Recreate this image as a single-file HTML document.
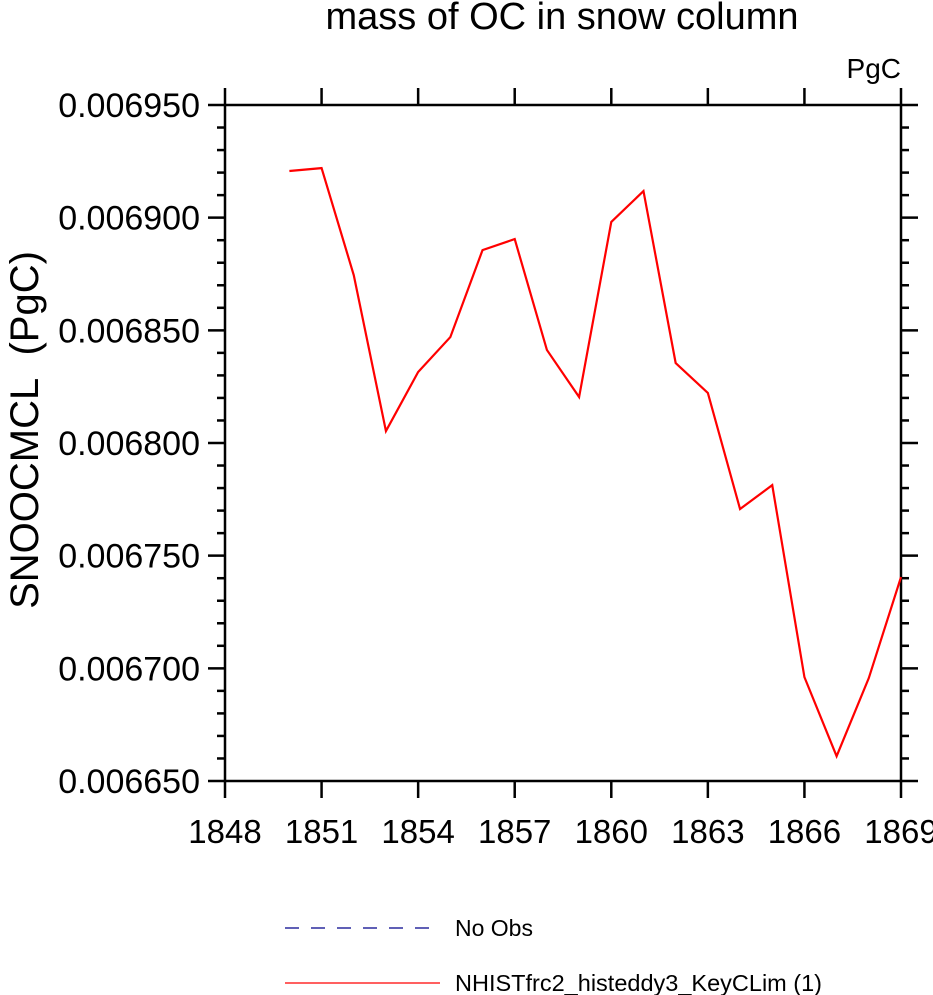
<!DOCTYPE html>
<html><head><meta charset="utf-8"><style>
body{margin:0;background:#fff;}
svg{display:block;font-family:"Liberation Sans",Arial,sans-serif;}
</style></head><body>
<svg id="c" width="933" height="995"></svg>
<script>
const years=[1850,1851,1852,1853,1854,1855,1856,1857,1858,1859,1860,1861,1862,1863,1864,1865,1866,1867,1868,1869];
const values=[0.0069207,0.0069220,0.0068745,0.0068053,0.0068315,0.0068470,0.0068856,0.0068905,0.0068413,0.0068204,0.0068981,0.0069118,0.0068355,0.0068222,0.0067707,0.0067813,0.0066961,0.0066610,0.0066957,0.0067405];
const xTicks=[1848,1851,1854,1857,1860,1863,1866,1869];
const yTicks=[0.00665,0.00670,0.00675,0.00680,0.00685,0.00690,0.00695];
const yTickLabels=["0.006650","0.006700","0.006750","0.006800","0.006850","0.006900","0.006950"];
const L=225,R=901,T=105,B=781,x0=1848,x1=1869,y0=0.00665,y1=0.00695;
const X=v=>L+(v-x0)/(x1-x0)*(R-L);
const Y=v=>B-(v-y0)/(y1-y0)*(B-T);
const svg=document.getElementById('c');const NS='http://www.w3.org/2000/svg';
function mk(tag,attrs,parent){const e=document.createElementNS(NS,tag);for(const k in attrs)e.setAttribute(k,attrs[k]);(parent||svg).appendChild(e);return e;}
function tx(s,attrs){const e=mk('text',attrs);e.textContent=s;return e;}
let e;
e=tx('mass of OC in snow column',{x:562,y:29,'font-size':38,'text-anchor':'middle'});

e=tx('PgC',{x:901,y:78,'font-size':28,'text-anchor':'end'});

e=tx('SNOOCMCL\u00a0\u00a0(PgC)',{x:0,y:0,'font-size':40,'text-anchor':'middle',transform:'translate(38,430) rotate(-90)'});

const ax=mk('g',{stroke:'#000','stroke-width':2.5,fill:'none'});

mk('rect',{x:L,y:T,width:R-L,height:B-T},ax);
for(let i=0;i<xTicks.length;i++){const x=X(xTicks[i]);
 mk('line',{x1:x,x2:x,y1:B,y2:B+17},ax);mk('line',{x1:x,x2:x,y1:T,y2:T-17},ax);
 e=tx(String(xTicks[i]),{x:x,y:843,'font-size':33,'text-anchor':'middle'});
 }
for(let v=0;v<=30;v++){const y=Y(y0+v*0.00001);const len=v%5==0?17:8;
 mk('line',{x1:L,x2:L-len,y1:y,y2:y},ax);mk('line',{x1:R,x2:R+len,y1:y,y2:y},ax);}
for(let i=0;i<yTicks.length;i++){
 e=tx(yTickLabels[i],{x:200,y:Y(yTicks[i])+12,'font-size':34,'text-anchor':'end'});
 }
const pts=years.map((yr,i)=>X(yr)+','+Y(values[i])).join(' ');
e=mk('polyline',{points:pts,fill:'none',stroke:'#ff0000','stroke-width':2.2});

e=mk('line',{x1:285,x2:440,y1:928,y2:928,stroke:'#00008b','stroke-width':1.3,'stroke-dasharray':'14,12'});

e=tx('No Obs',{x:455,y:936,'font-size':23});

e=mk('line',{x1:285,x2:440,y1:983,y2:983,stroke:'#ff0000','stroke-width':1.3});

e=tx('NHISTfrc2_histeddy3_KeyCLim (1)',{x:455,y:991,'font-size':23.5});

</script>
</body></html>
